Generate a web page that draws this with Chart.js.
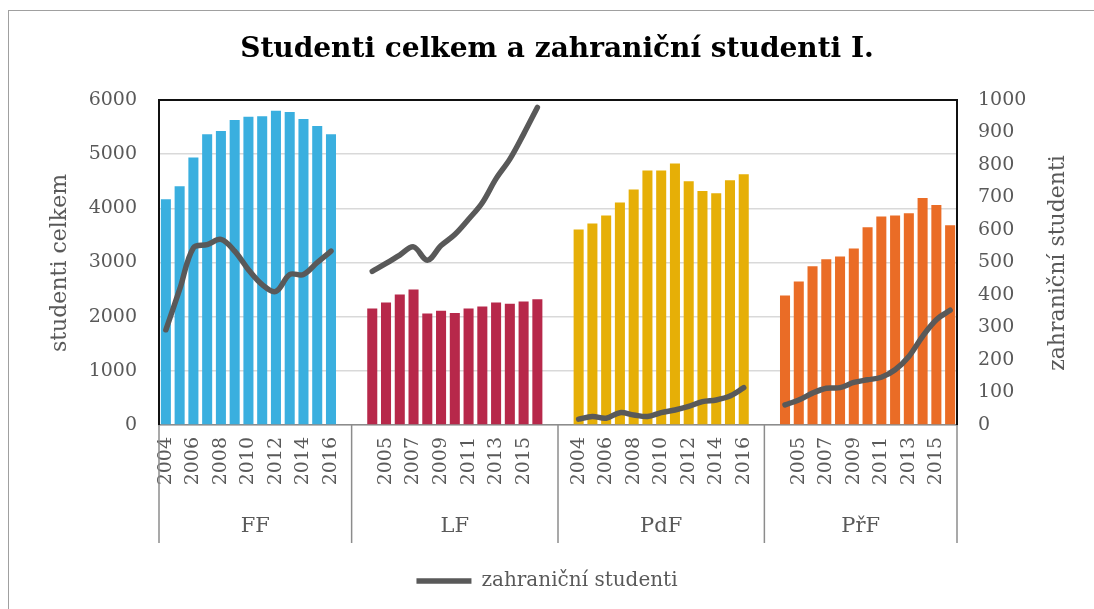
<!DOCTYPE html>
<html lang="cs">
<head>
<meta charset="UTF-8" />
<title>Studenti celkem a zahraniční studenti I.</title>
<style>
  body { margin: 0; background: #fff; }
  .frame {
    position: absolute; left: 8px; top: 10px;
    width: 1100px; height: 620px;
    border: 1.5px solid #a0a0a0;
  }
  .wrap { position: absolute; left: 0; top: 0; width: 1094px; height: 609px; }
</style>
</head>
<body>
<div class="frame"></div>
<div class="wrap"><canvas id="chart" width="1094" height="609"></canvas></div>

<script src="https://cdn.jsdelivr.net/npm/chart.js"></script>
<script>
const faculties = ["FF", "LF", "PdF", "PřF"]
const years = [2004, 2005, 2006, 2007, 2008, 2009, 2010, 2011, 2012, 2013, 2014, 2015, 2016]
const facultyColors = ["#3aafdf", "#b7284a", "#e6af07", "#ea6c26"]

// studenti celkem (levá osa)
const totalFF = [4170, 4410, 4940, 5370, 5430, 5630, 5690, 5700, 5800, 5780, 5650, 5520, 5370]
const totalLF = [2150, 2260, 2410, 2500, 2060, 2110, 2070, 2150, 2190, 2260, 2240, 2280, 2320]
const totalPdF = [3610, 3720, 3870, 4110, 4350, 4700, 4700, 4830, 4500, 4320, 4280, 4520, 4630]
const totalPrF = [2390, 2650, 2930, 3060, 3110, 3260, 3650, 3850, 3870, 3910, 4190, 4060, 3690]

// zahraniční studenti (pravá osa)
const foreignFF = [293, 417, 545, 555, 571, 535, 478, 432, 411, 463, 463, 500, 535]
const foreignLF = [473, 497, 523, 548, 507, 552, 586, 633, 684, 758, 818, 895, 977]
const foreignPdF = [18, 26, 21, 38, 31, 26, 38, 46, 57, 72, 77, 89, 115]
const foreignPrF = [62, 77, 98, 113, 115, 131, 139, 147, 170, 211, 273, 324, 353]

const totals = [totalFF, totalLF, totalPdF, totalPrF]
const foreign = [foreignFF, foreignLF, foreignPdF, foreignPrF]

// poskládat kategorie: mezi fakultami jsou dvě prázdné pozice
const labels = []
const barData = []
const lineData = []
const barColors = []
const groupRanges = []
faculties.forEach((f, i) => {
    const start = labels.length
    if (i > 0) { labels.push(""); barData.push(null); lineData.push(null); barColors.push("#fff") }
    years.forEach((y, j) => {
        labels.push(String(y))
        barData.push(totals[i][j])
        lineData.push(foreign[i][j])
        barColors.push(facultyColors[i])
    })
    if (i < faculties.length - 1) { labels.push(""); barData.push(null); lineData.push(null); barColors.push("#fff") }
    groupRanges.push([start, labels.length - 1])
})

const FONT = "'DejaVu Serif', Georgia, serif"
const GRAY = "#595959"

const decorPlugin = {
    id: "decor",
    afterDraw(chart) {
        const ctx = chart.ctx
        const area = chart.chartArea
        const x = chart.scales.x
        ctx.save()

        // nadpis
        ctx.fillStyle = "#000"
        ctx.font = "bold 28px " + FONT
        ctx.textAlign = "center"
        ctx.textBaseline = "middle"
        ctx.fillText("Studenti celkem a zahraniční studenti I.", 557, 50)

        // názvy os
        ctx.fillStyle = GRAY
        ctx.font = "22px " + FONT
        ctx.save()
        ctx.translate(60, 263)
        ctx.rotate(-Math.PI / 2)
        ctx.fillText("studenti celkem", 0, 0)
        ctx.restore()
        ctx.save()
        ctx.translate(1058, 263)
        ctx.rotate(-Math.PI / 2)
        ctx.fillText("zahraniční studenti", 0, 0)
        ctx.restore()

        // rámeček plochy grafu
        ctx.strokeStyle = "#111"
        ctx.lineWidth = 2
        ctx.beginPath()
        ctx.moveTo(area.left, area.bottom)
        ctx.lineTo(area.left, area.top)
        ctx.lineTo(area.right, area.top)
        ctx.lineTo(area.right, area.bottom)
        ctx.stroke()

        // druhá úroveň osy x: fakulty
        ctx.strokeStyle = "#8c8c8c"
        ctx.lineWidth = 1.5
        const half = (x.getPixelForValue(1) - x.getPixelForValue(0)) / 2
        const bounds = [area.left]
        groupRanges.forEach((r, i) => {
            const right = i === groupRanges.length - 1 ? area.right : x.getPixelForValue(r[1]) + half
            bounds.push(right)
        })
        bounds.forEach((bx) => {
            ctx.beginPath()
            ctx.moveTo(bx, area.bottom)
            ctx.lineTo(bx, 543)
            ctx.stroke()
        })
        ctx.fillStyle = GRAY
        ctx.font = "21px " + FONT
        faculties.forEach((f, i) => {
            ctx.fillText(f, (bounds[i] + bounds[i + 1]) / 2, 527)
        })
        ctx.restore()
    },
}

new Chart(document.getElementById("chart"), {
    data: {
        labels: labels,
        datasets: [
            {
                type: "bar",
                label: "studenti celkem",
                data: barData,
                backgroundColor: barColors,
                categoryPercentage: 1,
                barPercentage: 0.73,
                yAxisID: "y",
                order: 2,
            },
            {
                type: "line",
                label: "zahraniční studenti",
                data: lineData,
                borderColor: "#595959",
                backgroundColor: "#595959",
                borderWidth: 5.5,
                borderCapStyle: "round",
                borderJoinStyle: "round",
                pointRadius: 0,
                tension: 0.35,
                spanGaps: false,
                yAxisID: "y1",
                order: 1,
            },
        ],
    },
    options: {
        responsive: false,
        animation: false,
        layout: { padding: { top: 100, left: 0, right: 0, bottom: 8 } },
        plugins: {
            title: { display: false },
            tooltip: { enabled: false },
            legend: {
                position: "bottom",
                labels: {
                    usePointStyle: true,
                    pointStyle: "line",
                    pointStyleWidth: 55,
                    color: GRAY,
                    font: { family: FONT, size: 20 },
                    padding: 10,
                    filter: (item) => item.datasetIndex === 1,
                },
            },
        },
        scales: {
            x: {
                offset: true,
                grid: { display: false, drawTicks: false },
                border: { color: "#8c8c8c", width: 1.5 },
                ticks: {
                    autoSkip: false,
                    maxRotation: 90,
                    minRotation: 90,
                    padding: 12,
                    color: GRAY,
                    font: { family: FONT, size: 19 },
                    callback: function (v, i) {
                        return i % 2 === 0 ? this.getLabelForValue(v) : ""
                    },
                },
                afterFit: (s) => {
                    const lh = s.chart.legend ? s.chart.legend.height : 40
                    s.height = 609 - 8 - lh - 425
                },
            },
            y: {
                position: "left",
                min: 0,
                max: 6000,
                ticks: {
                    stepSize: 1000, padding: 22, color: GRAY,
                    font: { family: FONT, size: 19 },
                    callback: (v) => String(v),
                },
                grid: { color: "#d9d9d9", lineWidth: 1.5, drawTicks: false },
                border: { display: false },
                afterFit: (s) => { s.width = 159 },
            },
            y1: {
                position: "right",
                min: 0,
                max: 1000,
                ticks: {
                    stepSize: 100, padding: 21, color: GRAY,
                    font: { family: FONT, size: 19 },
                    callback: (v) => String(v),
                },
                grid: { drawOnChartArea: false, drawTicks: false },
                border: { display: false },
                afterFit: (s) => { s.width = 137 },
            },
        },
    },
    plugins: [decorPlugin],
})
</script>
</body>
</html>
